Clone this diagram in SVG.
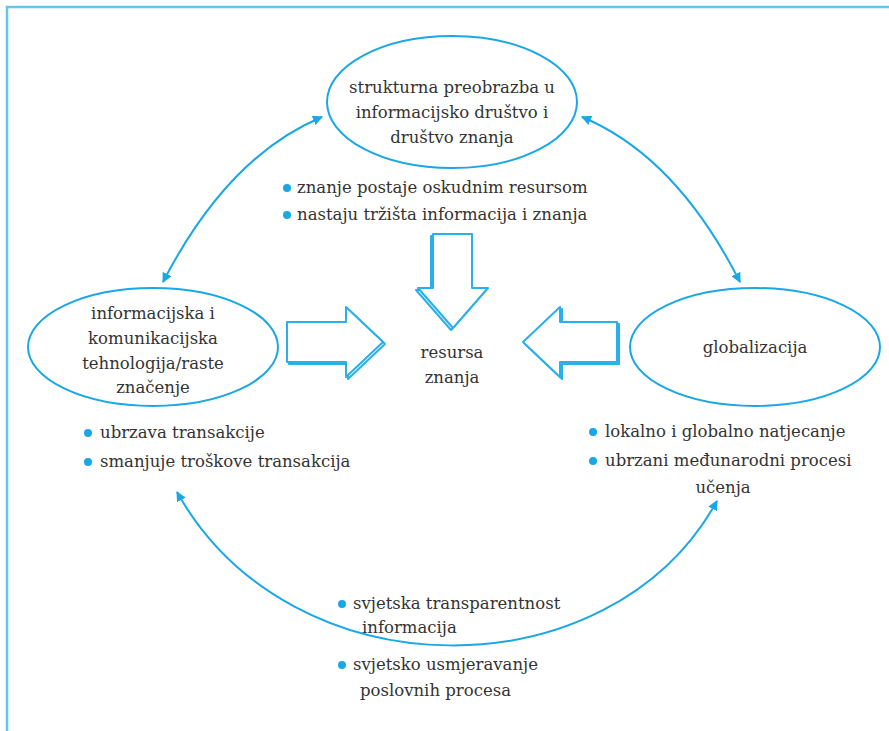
<svg xmlns="http://www.w3.org/2000/svg" width="889" height="731" viewBox="0 0 889 731">
<defs>
<marker id="ah" viewBox="0 0 10 10" refX="9" refY="5" markerWidth="5" markerHeight="5" orient="auto-start-reverse" markerUnits="strokeWidth">
<path d="M0,0 L10,5 L0,10 z" fill="#1aa7e6"/>
</marker>
<style>
.t{font-family:"DejaVu Serif","Liberation Serif",serif;font-size:16.5px;fill:#333;}
.c{text-anchor:middle;}
.ell{fill:#fff;stroke:#1aa7e6;stroke-width:2;}
.con{fill:none;stroke:#1aa7e6;stroke-width:2;}
.blk{fill:#fff;stroke:#29b0ea;stroke-width:2;stroke-linejoin:round;}
.dot{fill:#1aa7e6;}
.frame{fill:none;stroke:#62c6ef;stroke-width:2.5;}
</style>
</defs>
<rect width="889" height="731" fill="#fff"/>
<path class="frame" d="M7,731 L7,7 L889,7"/>

<g id="connectors">
<path class="con" d="M322,117 Q228,156 163,282" marker-start="url(#ah)" marker-end="url(#ah)"/>
<path class="con" d="M582,117 Q676,156 740,282" marker-start="url(#ah)" marker-end="url(#ah)"/>
<path class="con" d="M177,492 C290,695 610,695 717,501" marker-start="url(#ah)" marker-end="url(#ah)"/>
</g>

<g id="arrow-down">
<polygon class="blk" points="431,236 470,236 470,290 486,290 451,330 416,290 431,290"/>
<polygon class="blk" points="433,234 472,234 472,288 488,288 453,328 418,288 433,288"/>
</g>
<g id="arrow-right">
<polygon class="blk" points="289,324 348,324 348,309 385,344 348,379 348,364 289,364"/>
<polygon class="blk" points="287,322 346,322 346,307 383,342 346,377 346,362 287,362"/>
</g>
<g id="arrow-left">
<polygon class="blk" points="619,324 562,324 562,309 525,344 562,379 562,364 619,364"/>
<polygon class="blk" points="617,322 560,322 560,307 523,342 560,377 560,362 617,362"/>
</g>

<g id="node-top">
<ellipse class="ell" cx="452" cy="102" rx="125" ry="66"/>
<text class="t c" x="452" y="93">strukturna preobrazba u</text>
<text class="t c" x="452" y="118">informacijsko društvo i</text>
<text class="t c" x="452" y="143">društvo znanja</text>
</g>
<g id="top-bullets">
<circle class="dot" cx="287" cy="188" r="4"/>
<text class="t" x="297" y="193">znanje postaje oskudnim resursom</text>
<circle class="dot" cx="287" cy="215" r="4"/>
<text class="t" x="297" y="220">nastaju tržišta informacija i znanja</text>
</g>

<g id="node-left">
<ellipse class="ell" cx="153" cy="347" rx="125" ry="59"/>
<text class="t c" x="153" y="319">informacijska i</text>
<text class="t c" x="153" y="344">komunikacijska</text>
<text class="t c" x="153" y="369">tehnologija/raste</text>
<text class="t c" x="153" y="393">značenje</text>
</g>
<g id="left-bullets">
<circle class="dot" cx="88" cy="433" r="4"/>
<text class="t" x="100" y="438">ubrzava transakcije</text>
<circle class="dot" cx="88" cy="462" r="4"/>
<text class="t" x="100" y="467">smanjuje troškove transakcija</text>
</g>

<g id="node-right">
<ellipse class="ell" cx="755" cy="347" rx="125" ry="59"/>
<text class="t c" x="755" y="353">globalizacija</text>
</g>
<g id="right-bullets">
<circle class="dot" cx="593" cy="432" r="4"/>
<text class="t" x="605" y="437">lokalno i globalno natjecanje</text>
<circle class="dot" cx="593" cy="461" r="4"/>
<text class="t" x="605" y="466">ubrzani međunarodni procesi</text>
<text class="t c" x="723" y="493">učenja</text>
</g>

<g id="node-center">
<text class="t c" x="452" y="358">resursa</text>
<text class="t c" x="452" y="383">znanja</text>
</g>

<g id="bottom-bullets">
<circle class="dot" cx="342" cy="604" r="4"/>
<text class="t" x="353" y="609">svjetska transparentnost</text>
<text class="t" x="362" y="633">informacija</text>
<circle class="dot" cx="342" cy="665" r="4"/>
<text class="t" x="353" y="670">svjetsko usmjeravanje</text>
<text class="t" x="360" y="696">poslovnih procesa</text>
</g>
</svg>
